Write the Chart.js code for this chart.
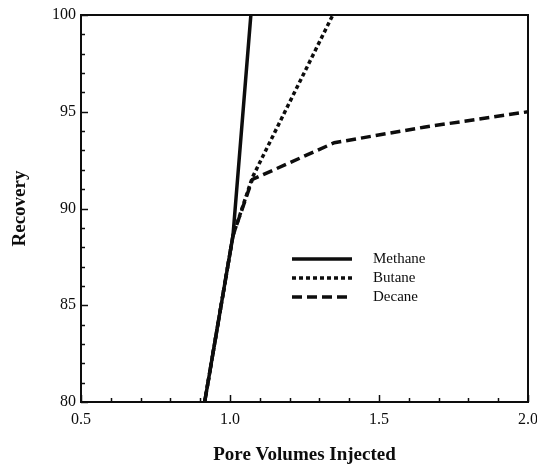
<!DOCTYPE html>
<html>
<head>
<meta charset="utf-8">
<script src="https://cdn.jsdelivr.net/npm/chart.js@4.4.0/dist/chart.umd.min.js"></script>
<style>
  html, body { margin: 0; padding: 0; background: #fff; }
  #wrap { width: 537px; height: 467px; }
</style>
</head>
<body>
<div id="wrap"><canvas id="recoveryChart"></canvas></div>
<script>
// pore volumes injected vs. recovery for each solvent
const methaneX = [0.915, 1.01, 1.07];
const methaneY = [80, 88.6, 100];
const butaneX = [0.915, 1.01, 1.075, 1.345];
const butaneY = [80, 88.6, 91.6, 100];
const decaneX = [0.915, 1.01, 1.075, 1.35, 1.65, 2.0];
const decaneY = [80, 88.6, 91.5, 93.4, 94.2, 95.0];
const seriesNames = ['Methane', 'Butane', 'Decane'];
const xTicks = [0.5, 1.0, 1.5, 2.0];
const yTicks = [80, 85, 90, 95, 100];

const pts = (xs, ys) => xs.map((x, i) => ({ x: x, y: ys[i] }));
const INK = '#0d0d0d';
const SERIF = '"Liberation Serif", "Times New Roman", serif';

// frame, inward minor ticks and the small legend inside the plot
const framePlugin = {
    id: 'frame',
    afterDraw(chart) {
        const { ctx, chartArea: a, scales } = chart;
        ctx.save();
        ctx.strokeStyle = INK;
        ctx.lineWidth = 2;
        ctx.strokeRect(a.left, a.top, a.right - a.left, a.bottom - a.top);

        ctx.lineWidth = 1.5;
        const xs = scales.x;
        for (let v = xs.min; v <= xs.max + 1e-9; v += 0.1) {
            const px = Math.round(xs.getPixelForValue(v)) + 0.5;
            const major = Math.abs(v * 2 - Math.round(v * 2)) < 1e-6;
            const len = major ? 7 : 4;
            ctx.beginPath();
            ctx.moveTo(px, a.bottom);
            ctx.lineTo(px, a.bottom - len);
            ctx.stroke();
        }
        const ys = scales.y;
        for (let v = ys.min; v <= ys.max + 1e-9; v += 1) {
            const py = Math.round(ys.getPixelForValue(v)) + 0.5;
            const len = v % 5 === 0 ? 7 : 4;
            ctx.beginPath();
            ctx.moveTo(a.left, py);
            ctx.lineTo(a.left + len, py);
            ctx.stroke();
        }

        // legend
        ctx.font = '15px ' + SERIF;
        ctx.fillStyle = INK;
        ctx.textBaseline = 'middle';
        chart.data.datasets.forEach((ds, i) => {
            const y = 259 + i * 19;
            ctx.lineWidth = ds.borderWidth;
            ctx.setLineDash(ds.borderDash || []);
            ctx.beginPath();
            ctx.moveTo(292, y);
            ctx.lineTo(352, y);
            ctx.stroke();
            ctx.setLineDash([]);
            ctx.fillText(ds.label, 373, y);
        });
        ctx.restore();
    }
};

new Chart(document.getElementById('recoveryChart').getContext('2d'), {
    type: 'scatter',
    data: {
        datasets: [
            { label: seriesNames[0], data: pts(methaneX, methaneY), borderColor: INK, borderWidth: 3.5, showLine: true, pointRadius: 0 },
            { label: seriesNames[1], data: pts(butaneX, butaneY), borderColor: INK, borderWidth: 3.5, borderDash: [4, 3], showLine: true, pointRadius: 0 },
            { label: seriesNames[2], data: pts(decaneX, decaneY), borderColor: INK, borderWidth: 3.5, borderDash: [10, 5], showLine: true, pointRadius: 0 }
        ]
    },
    options: {
        responsive: true,
        maintainAspectRatio: false,
        animation: false,
        layout: { padding: { top: 15, right: 9, left: 0, bottom: 0 } },
        plugins: {
            legend: { display: false },
            tooltip: { enabled: false }
        },
        scales: {
            x: {
                type: 'linear',
                min: 0.5, max: 2.0,
                afterBuildTicks: s => { s.ticks = xTicks.map(v => ({ value: v })); },
                afterFit: s => { s.height = 65; s.paddingLeft = 0; s.paddingRight = 0; },
                grid: { drawOnChartArea: false, drawTicks: false },
                border: { color: INK, width: 2 },
                ticks: {
                    padding: 8,
                    color: INK,
                    font: { family: SERIF, size: 16 },
                    callback: v => v.toFixed(1)
                },
                title: {
                    display: true,
                    text: 'Pore Volumes Injected',
                    color: INK,
                    font: { family: SERIF, size: 19, weight: 'bold' },
                    padding: { top: 0, bottom: 1 }
                }
            },
            y: {
                type: 'linear',
                min: 80, max: 100,
                afterBuildTicks: s => { s.ticks = yTicks.map(v => ({ value: v })); },
                afterFit: s => { s.width = 81; s.paddingTop = 0; s.paddingBottom = 0; },
                grid: { drawOnChartArea: false, drawTicks: false },
                border: { color: INK, width: 2 },
                ticks: {
                    padding: 5,
                    color: INK,
                    font: { family: SERIF, size: 16 }
                },
                title: {
                    display: true,
                    text: 'Recovery',
                    color: INK,
                    font: { family: SERIF, size: 19, weight: 'bold' },
                    padding: { top: 9, bottom: 0 }
                }
            }
        }
    },
    plugins: [framePlugin]
});
</script>
</body>
</html>
